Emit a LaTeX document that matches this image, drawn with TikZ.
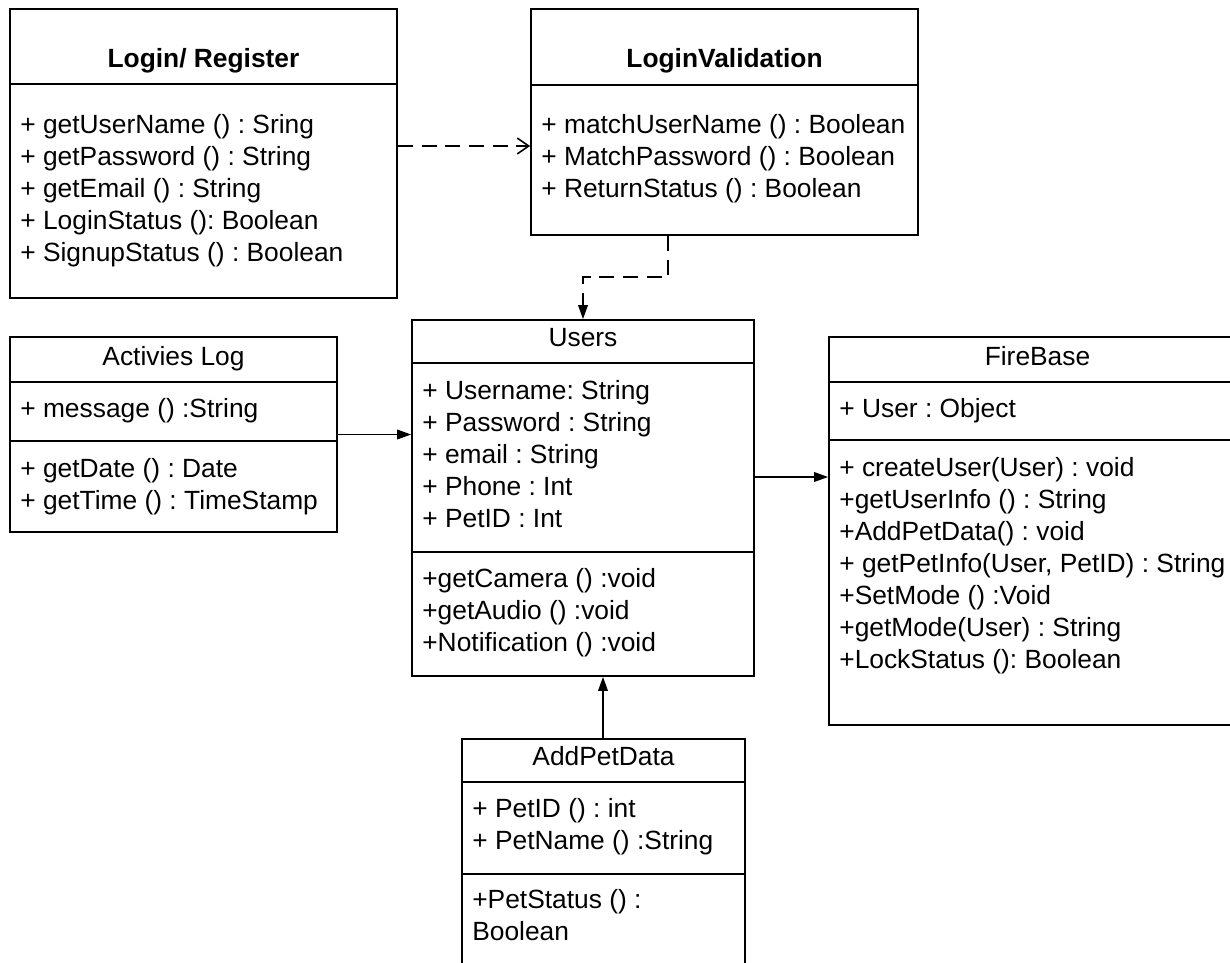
\documentclass[tikz,border=0pt]{standalone}
\usepackage{fontspec}
\setmainfont{Liberation Sans}
\usetikzlibrary{arrows.meta,fit}

\begin{document}
\begin{tikzpicture}[x=0.02cm, y=-0.02cm,
        box/.style={draw, line width=1pt, inner sep=0pt},
        sep/.style={line width=1pt},
        txt/.style={anchor=base west, inner sep=0pt, font=\fontsize{15}{18}\selectfont\frenchspacing},
        ttl/.style={anchor=base, inner sep=0pt, font=\fontsize{15}{18}\selectfont\frenchspacing},
        bttl/.style={ttl, font=\fontsize{15}{18}\selectfont\bfseries},
        conn/.style={line width=0.9pt, -{Triangle[length=8pt,width=5.5pt]}},
        dep/.style={line width=0.9pt, dash pattern=on 8.5pt off 5pt}]
        \useasboundingbox (0,0) rectangle (1230,963);
        \clip (0,0) rectangle (1230,963);

        % Login/ Register
        \node[box, fit={(10,9) (397,298)}] (login) {};
        \draw[sep] (login.west |- 0,84) -- (login.east |- 0,84);
        \node[bttl] (login-t) at (login.north |- 0,68) {Login/ Register};
        \foreach \t [count=\i from 0] in {+ getUserName () : Sring, + getPassword () : String, + getEmail () : String, + LoginStatus (): Boolean, + SignupStatus () : Boolean}
            \node[txt] (login-m\i) at (20,{133+32*\i}) {\t};

        % LoginValidation
        \node[box, fit={(531,9) (918,235)}] (val) {};
        \draw[sep] (val.west |- 0,85) -- (val.east |- 0,85);
        \node[bttl] (val-t) at (val.north |- 0,68) {LoginValidation};
        \foreach \t [count=\i from 0] in {+ matchUserName () : Boolean, + MatchPassword () : Boolean, + ReturnStatus () : Boolean}
            \node[txt] (val-m\i) at (541,{133+32*\i}) {\t};

        % Users
        \node[box, fit={(412,320) (754,676)}] (users) {};
        \draw[sep] (users.west |- 0,363) -- (users.east |- 0,363);
        \draw[sep] (users.west |- 0,552) -- (users.east |- 0,552);
        \node[ttl] (users-t) at (users.north |- 0,346) {Users};
        \foreach \t [count=\i from 0] in {+ Username: String, + Password : String, + email : String, + Phone : Int, + PetID : Int}
            \node[txt] (users-a\i) at (422,{399+32*\i}) {\t};
        \foreach \t [count=\i from 0] in {+getCamera () :void, +getAudio () :void, +Notification () :void}
            \node[txt] (users-m\i) at (422,{587+32*\i}) {\t};

        % Activies Log
        \node[box, fit={(10,337) (337,532)}] (log) {};
        \draw[sep] (log.west |- 0,382) -- (log.east |- 0,382);
        \draw[sep] (log.west |- 0,441) -- (log.east |- 0,441);
        \node[ttl] (log-t) at (log.north |- 0,365) {Activies Log};
        \node[txt] (log-a0) at (20,417) {+ message () :String};
        \foreach \t [count=\i from 0] in {+ getDate () : Date, + getTime () : TimeStamp}
            \node[txt] (log-m\i) at (20,{477+32*\i}) {\t};

        % FireBase
        \node[box, fit={(829,337) (1246,725)}] (fire) {};
        \draw[sep] (fire.west |- 0,382) -- (fire.east |- 0,382);
        \draw[sep] (fire.west |- 0,440) -- (fire.east |- 0,440);
        \node[ttl] (fire-t) at (fire.north |- 0,365) {FireBase};
        \node[txt] (fire-a0) at (839,417) {+ User : Object};
        \foreach \t [count=\i from 0] in {+ createUser(User) : void, +getUserInfo () : String, +AddPetData() : void, {+ getPetInfo(User, PetID) : String}, +SetMode () :Void, +getMode(User) : String, +LockStatus (): Boolean}
            \node[txt] (fire-m\i) at (839,{476+32*\i}) {\t};

        % AddPetData
        \node[box, fit={(462,739) (745,990)}] (pet) {};
        \draw[sep] (pet.west |- 0,782) -- (pet.east |- 0,782);
        \draw[sep] (pet.west |- 0,874) -- (pet.east |- 0,874);
        \node[ttl] (pet-t) at (pet.north |- 0,765) {AddPetData};
        \foreach \t [count=\i from 0] in {+ PetID () : int, + PetName () :String}
            \node[txt] (pet-a\i) at (472,{817+32*\i}) {\t};
        \foreach \t [count=\i from 0] in {+PetStatus () :, Boolean}
            \node[txt] (pet-m\i) at (472,{908+32*\i}) {\t};

        % connectors
        \draw[dep, -{Straight Barb[length=6.5pt,width=9pt]}] (login.east |- 0,146) -- (val.west |- 0,146);
        \draw[dep, -{Triangle[length=8pt,width=5.5pt]}] (val.south -| 668,0) |- (583,277) -- (users.north);
        \draw[conn] (log.east) -- (users.west |- log.east);
        \draw[conn] (users.east |- 0,477) -- (fire.west |- 0,477);
        \draw[conn] (pet.north -| 603,0) -- (users.south -| 603,0);

\end{tikzpicture}
\end{document}
